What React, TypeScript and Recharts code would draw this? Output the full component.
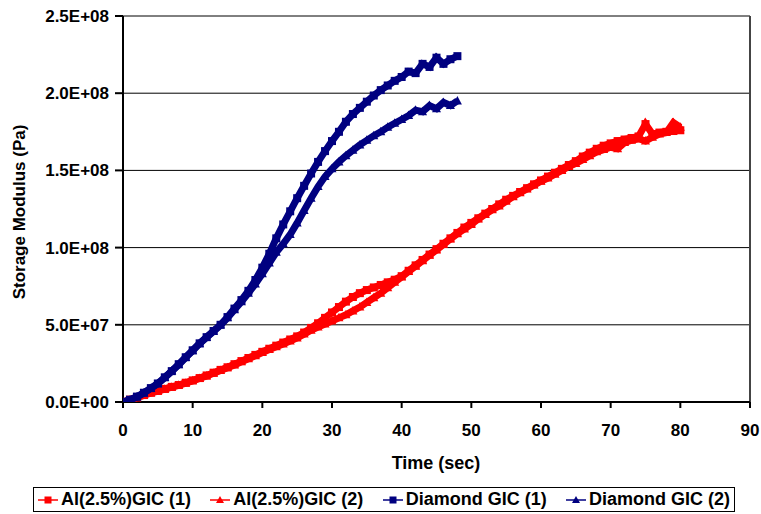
import React from 'react';
import { ScatterChart, Scatter, XAxis, YAxis, CartesianGrid, ReferenceLine, Label } from 'recharts';

const alTime = [0,1,2,3,4,5,6,7,8,9,10,11,12,13,14,15,16,17,18,19,20,21,22,23,24,25,26,27,28,29,30,31,32,33,34,35,36,37,38,39,40,41,42,43,44,45,46,47,48,49,50,51,52,53,54,55,56,57,58,59,60,61,62,63,64,65,66,67,68,69,70,71,72,73,74,75,76,77,78,79,80];
const diaTime = [0,1,2,3,4,5,6,7,8,9,10,11,12,13,14,15,16,17,18,19,20,21,22,23,24,25,26,27,28,29,30,31,32,33,34,35,36,37,38,39,40,41,42,43,44,45,46,47,48];

const al1 = [0,1.5e6,3e6,4.5e6,6e6,7.2e6,8.5e6,9.8e6,1.1e7,1.25e7,1.4e7,1.55e7,1.72e7,1.9e7,2.08e7,2.25e7,2.45e7,2.65e7,2.85e7,3.05e7,3.25e7,3.45e7,3.65e7,3.85e7,4.05e7,4.25e7,4.5e7,4.8e7,5.1e7,5.45e7,5.8e7,6.15e7,6.5e7,6.8e7,7.05e7,7.25e7,7.42e7,7.58e7,7.75e7,7.92e7,8.15e7,8.5e7,8.85e7,9.2e7,9.55e7,9.9e7,1.025e8,1.06e8,1.095e8,1.13e8,1.16e8,1.19e8,1.22e8,1.25e8,1.28e8,1.31e8,1.335e8,1.36e8,1.385e8,1.41e8,1.435e8,1.46e8,1.485e8,1.51e8,1.535e8,1.56e8,1.59e8,1.615e8,1.64e8,1.66e8,1.675e8,1.69e8,1.7e8,1.71e8,1.72e8,1.8e8,1.735e8,1.745e8,1.75e8,1.755e8,1.76e8];
const al2 = [0,1.2e6,2.8e6,4.2e6,5.8e6,7e6,8.3e6,9.6e6,1.08e7,1.22e7,1.37e7,1.52e7,1.68e7,1.86e7,2.04e7,2.22e7,2.4e7,2.6e7,2.8e7,3e7,3.2e7,3.4e7,3.58e7,3.76e7,3.95e7,4.15e7,4.4e7,4.65e7,4.85e7,5.05e7,5.25e7,5.45e7,5.65e7,5.9e7,6.15e7,6.45e7,6.75e7,7.05e7,7.4e7,7.75e7,8.1e7,8.45e7,8.8e7,9.15e7,9.5e7,9.85e7,1.02e8,1.055e8,1.09e8,1.12e8,1.15e8,1.185e8,1.215e8,1.245e8,1.27e8,1.3e8,1.33e8,1.355e8,1.38e8,1.405e8,1.43e8,1.45e8,1.475e8,1.5e8,1.525e8,1.545e8,1.57e8,1.595e8,1.62e8,1.635e8,1.65e8,1.64e8,1.68e8,1.695e8,1.705e8,1.69e8,1.715e8,1.735e8,1.745e8,1.81e8,1.78e8];
const dia1 = [0,1.5e6,3.5e6,6e6,9e6,1.2e7,1.6e7,2e7,2.45e7,2.9e7,3.35e7,3.8e7,4.2e7,4.6e7,5e7,5.5e7,6.05e7,6.6e7,7.2e7,7.9e7,8.7e7,9.6e7,1.06e8,1.15e8,1.235e8,1.32e8,1.4e8,1.48e8,1.555e8,1.625e8,1.69e8,1.75e8,1.815e8,1.865e8,1.905e8,1.945e8,1.985e8,2.02e8,2.05e8,2.08e8,2.105e8,2.14e8,2.13e8,2.19e8,2.17e8,2.23e8,2.19e8,2.22e8,2.24e8];
const dia2 = [0,1.2e6,3.2e6,5.8e6,8.8e6,1.18e7,1.58e7,2e7,2.42e7,2.88e7,3.32e7,3.78e7,4.18e7,4.58e7,4.98e7,5.45e7,5.98e7,6.5e7,7.05e7,7.65e7,8.3e7,9e7,9.7e7,1.025e8,1.085e8,1.16e8,1.24e8,1.32e8,1.395e8,1.46e8,1.51e8,1.555e8,1.595e8,1.63e8,1.665e8,1.695e8,1.725e8,1.75e8,1.78e8,1.805e8,1.83e8,1.855e8,1.89e8,1.88e8,1.92e8,1.9e8,1.94e8,1.92e8,1.95e8];

const yTicks = [0, 5e7, 1e8, 1.5e8, 2e8, 2.5e8];
const xTicks = [0, 10, 20, 30, 40, 50, 60, 70, 80, 90];

const seriesNames = ['Al(2.5%)GIC (1)', 'Al(2.5%)GIC (2)', 'Diamond GIC (1)', 'Diamond GIC (2)'];
const RED = '#FF0000';
const NAVY = '#000080';

const toPoints = (times: number[], vals: number[]) => times.map((t, i) => ({ x: t, y: vals[i] }));

const fmtE = (v: number) => {
  if (v === 0) return '0.0E+00';
  const e = Math.floor(Math.log10(v) + 1e-9);
  const m = v / Math.pow(10, e);
  return `${m.toFixed(1)}E+${String(e).padStart(2, '0')}`;
};

const FONT = '"Liberation Sans", Arial, sans-serif';
const FS = 17;

const Square = (color: string) => (p: any) => (
  <rect x={p.cx - 4} y={p.cy - 4} width={8} height={8} fill={color} />
);
const Tri = (color: string) => (p: any) => (
  <polygon points={`${p.cx},${p.cy - 5} ${p.cx + 4.5},${p.cy + 3.5} ${p.cx - 4.5},${p.cy + 3.5}`} fill={color} />
);

const LegendIcon = ({ color, tri }: { color: string; tri: boolean }) => (
  <svg width={20} height={12} style={{ marginRight: 3 }}>
    <line x1={0} y1={6} x2={20} y2={6} stroke={color} strokeWidth={1.5} />
    {tri ? (
      <polygon points="10,2 14,9 6,9" fill={color} />
    ) : (
      <rect x={6.5} y={2.5} width={7} height={7} fill={color} />
    )}
  </svg>
);

export default function App() {
  const colors = [RED, RED, NAVY, NAVY];
  const tris = [false, true, false, true];
  const tickStyle = { fill: '#000', fontSize: FS, fontWeight: 'bold', fontFamily: FONT };
  return (
    <div style={{ position: 'absolute', left: 0, top: 0, width: 761, height: 514, background: '#fff', fontFamily: FONT }}>
      <ScatterChart width={761} height={514} margin={{ top: 16, right: 11, bottom: 0, left: 0 }}>
        <CartesianGrid horizontal vertical={false} stroke="#000" strokeWidth={1} />
        <XAxis
          type="number"
          dataKey="x"
          domain={[0, 90]}
          ticks={xTicks}
          height={112}
          tickSize={6}
          tickMargin={16}
          axisLine={{ stroke: '#000', strokeWidth: 2 }}
          tickLine={{ stroke: '#000', strokeWidth: 2 }}
          tick={tickStyle}
          allowDataOverflow
        >
          <Label
            content={() => (
              <text x={436} y={469} textAnchor="middle" fontSize={FS + 1} fontWeight="bold" fontFamily={FONT} fill="#000">
                Time (sec)
              </text>
            )}
          />
        </XAxis>
        <YAxis
          type="number"
          dataKey="y"
          domain={[0, 2.5e8]}
          ticks={yTicks}
          width={123}
          tickSize={8}
          tickMargin={6}
          tickFormatter={fmtE}
          axisLine={{ stroke: '#000', strokeWidth: 2 }}
          tickLine={{ stroke: '#000', strokeWidth: 2 }}
          tick={tickStyle}
          allowDataOverflow
        >
          <Label
            content={() => (
              <text x={25} y={212} transform="rotate(-90 25 212)" textAnchor="middle" fontSize={FS} fontWeight="bold" fontFamily={FONT} fill="#000">
                Storage Modulus (Pa)
              </text>
            )}
          />
        </YAxis>
        <ReferenceLine x={90} stroke="#444" strokeWidth={2} />
        <Scatter name={seriesNames[0]} data={toPoints(alTime, al1)} fill={RED} line={{ stroke: RED, strokeWidth: 7 }} shape={Square(RED)} isAnimationActive={false} />
        <Scatter name={seriesNames[1]} data={toPoints(alTime, al2)} fill={RED} line={{ stroke: RED, strokeWidth: 7 }} shape={Tri(RED)} isAnimationActive={false} />
        <Scatter name={seriesNames[2]} data={toPoints(diaTime, dia1)} fill={NAVY} line={{ stroke: NAVY, strokeWidth: 7 }} shape={Square(NAVY)} isAnimationActive={false} />
        <Scatter name={seriesNames[3]} data={toPoints(diaTime, dia2)} fill={NAVY} line={{ stroke: NAVY, strokeWidth: 7 }} shape={Tri(NAVY)} isAnimationActive={false} />
      </ScatterChart>
      <div
        style={{
          position: 'absolute',
          left: 33,
          top: 487,
          width: 702,
          height: 25,
          border: '1px solid #000',
          display: 'flex',
          alignItems: 'center',
          justifyContent: 'space-between',
          fontWeight: 'bold',
          fontSize: 18,
          color: '#000',
          boxSizing: 'border-box',
          padding: '0 4px',
        }}
      >
        {seriesNames.map((n, i) => (
          <div key={n} style={{ display: 'flex', alignItems: 'center', whiteSpace: 'nowrap' }}>
            <LegendIcon color={colors[i]} tri={tris[i]} />
            <span>{n}</span>
          </div>
        ))}
      </div>
    </div>
  );
}
